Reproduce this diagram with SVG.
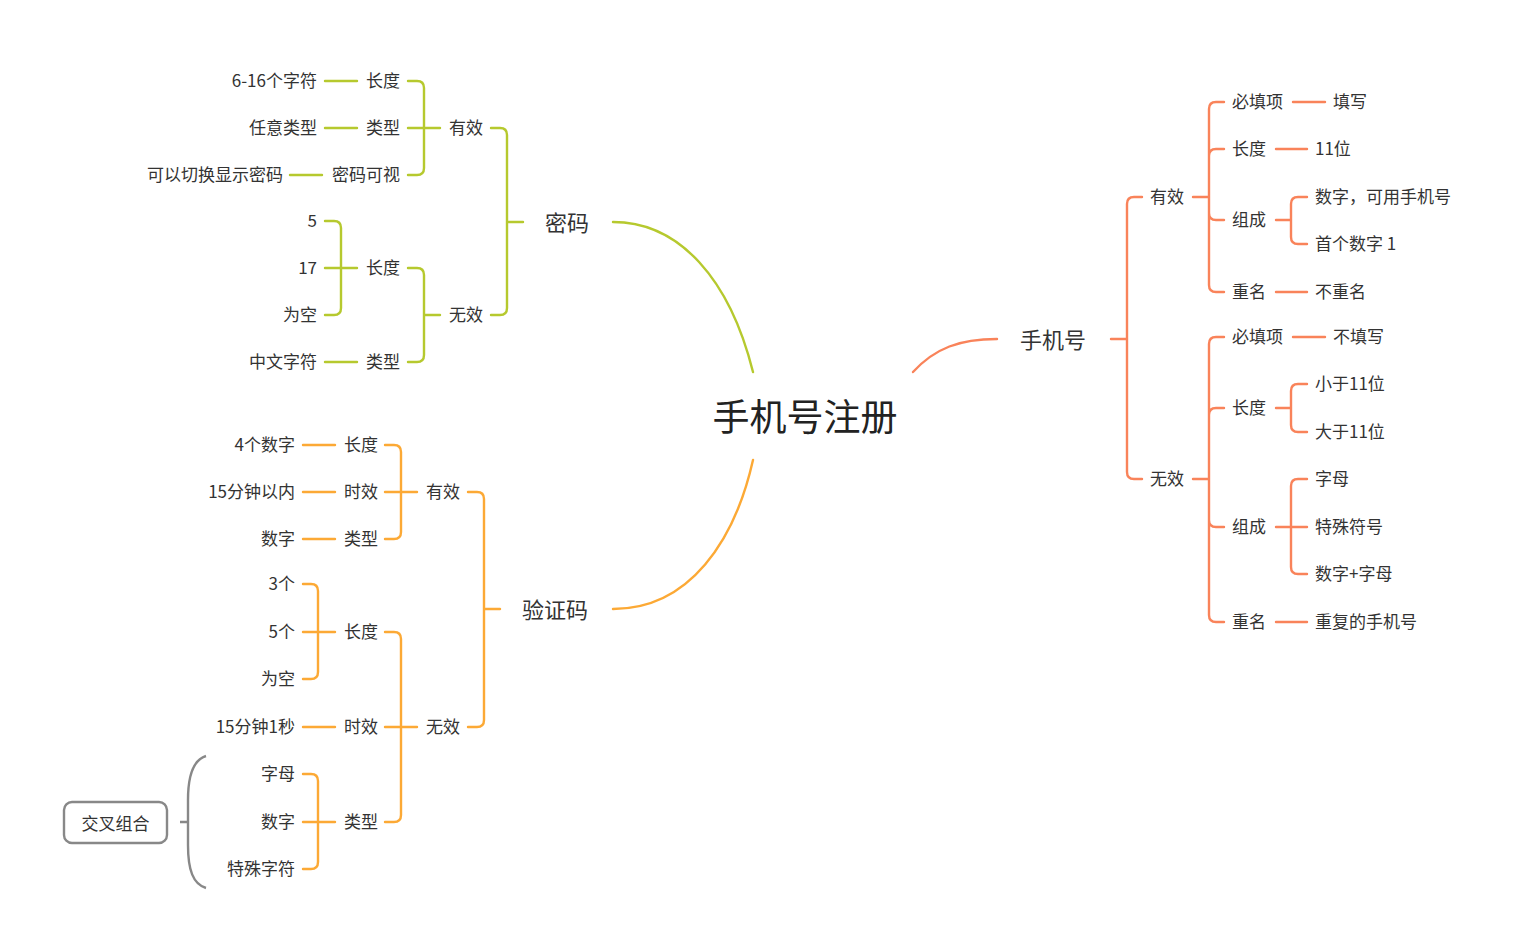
<svg xmlns="http://www.w3.org/2000/svg" width="1525" height="951" viewBox="0 0 1525 951">
<style>
text{font-family:"Noto Sans CJK SC","Liberation Sans",sans-serif;fill:#333;dominant-baseline:central;font-size:17px}
.e{text-anchor:end}
.m{font-size:22px}
.c{font-size:37px;text-anchor:middle;fill:#222}
.g{fill:none;stroke:#B6C92E;stroke-width:2.4;stroke-linecap:round}
.o{fill:none;stroke:#FCA935;stroke-width:2.4;stroke-linecap:round}
.s{fill:none;stroke:#F9835A;stroke-width:2.4;stroke-linecap:round}
.k{fill:none;stroke:#888;stroke-width:2.4}
</style>
<rect width="1525" height="951" fill="#fff"/>
<g id="connectors">
<path class="g" stroke-width="3.2" d="M613,222 C680,222 730,280 753,372"/>
<path class="o" stroke-width="3.2" d="M753,460 C735,540 690,609 613,609"/>
<path class="s" stroke-width="3.2" d="M913,372 C935,348 960,339 997,339"/>
<path class="g" d="M523,222 H507 M507,222 V135 Q507,128 500,128 H491 M507,222 V308 Q507,315 500,315 H491"/>
<path class="g" d="M440,128 H408 M424,128 V88 Q424,81 417,81 H408 M424,128 V168 Q424,175 417,175 H408"/>
<path class="g" d="M440,315 H424 M424,315 V275 Q424,268 417,268 H408 M424,315 V355 Q424,362 417,362 H408"/>
<path class="g" d="M357,268 H325 M341,268 V228 Q341,221 334,221 H325 M341,268 V308 Q341,315 334,315 H325"/>
<path class="g" d="M325,81 H357 M325,128 H357 M290,175 H322 M325,362 H357"/>
<path class="o" d="M500,609 H484 M484,609 V499 Q484,492 477,492 H468 M484,609 V720 Q484,727 477,727 H468"/>
<path class="o" d="M417,492 H385 M401,492 V452 Q401,445 394,445 H385 M401,492 V532 Q401,539 394,539 H385"/>
<path class="o" d="M417,727 H385 M401,727 V639 Q401,632 394,632 H385 M401,727 V815 Q401,822 394,822 H385"/>
<path class="o" d="M335,632 H303 M318,632 V591 Q318,584 311,584 H303 M318,632 V672 Q318,679 311,679 H303"/>
<path class="o" d="M335,822 H303 M318,822 V781 Q318,774 311,774 H303 M318,822 V862 Q318,869 311,869 H303"/>
<path class="o" d="M303,445 H335 M303,492 H335 M303,539 H335 M303,727 H335"/>
<path class="k" d="M206,756 C193,760 188,775 188,800 V845 C188,870 193,884 206,888 M180,822 H188"/>
<path class="s" d="M1111,339 H1127 M1127,339 V204 Q1127,197 1134,197 H1142 M1127,339 V472 Q1127,479 1134,479 H1142"/>
<path class="s" d="M1193,197 H1209 M1209,197 V109 Q1209,102 1216,102 H1224 M1209,197 V156 Q1209,149 1216,149 H1224 M1209,197 V213 Q1209,220 1216,220 H1224 M1209,197 V285 Q1209,292 1216,292 H1224"/>
<path class="s" d="M1193,479 H1209 M1209,479 V344 Q1209,337 1216,337 H1224 M1209,479 V415 Q1209,408 1216,408 H1224 M1209,479 V520 Q1209,527 1216,527 H1224 M1209,479 V615 Q1209,622 1216,622 H1224"/>
<path class="s" d="M1276,220 H1291 M1291,220 V204 Q1291,197 1298,197 H1307 M1291,220 V237 Q1291,244 1298,244 H1307"/>
<path class="s" d="M1276,408 H1291 M1291,408 V391 Q1291,384 1298,384 H1307 M1291,408 V425 Q1291,432 1298,432 H1307"/>
<path class="s" d="M1276,527 H1307 M1291,527 V486 Q1291,479 1298,479 H1307 M1291,527 V567 Q1291,574 1298,574 H1307"/>
<path class="s" d="M1293,102 H1325 M1276,149 H1307 M1276,292 H1307 M1293,337 H1325 M1276,622 H1307"/>
</g>
<g id="nodes" transform="translate(0,-1.5)">
<g id="root"><text class="c" x="805" y="416">手机号注册</text></g>
<g id="pwd"><text class="m" x="545" y="222">密码</text></g>
<g id="pwd-valid"><text class="e" x="483" y="128">有效</text></g>
<g id="pwd-valid-len"><text class="e" x="400" y="81">长度</text></g>
<g id="pwd-valid-len-v"><text class="e" x="317" y="81">6-16个字符</text></g>
<g id="pwd-valid-type"><text class="e" x="400" y="128">类型</text></g>
<g id="pwd-valid-type-v"><text class="e" x="317" y="128">任意类型</text></g>
<g id="pwd-valid-vis"><text class="e" x="400" y="175">密码可视</text></g>
<g id="pwd-valid-vis-v"><text class="e" x="283" y="175">可以切换显示密码</text></g>
<g id="pwd-invalid"><text class="e" x="483" y="315">无效</text></g>
<g id="pwd-invalid-len"><text class="e" x="400" y="268">长度</text></g>
<g id="pwd-invalid-len-5"><text class="e" x="317" y="221">5</text></g>
<g id="pwd-invalid-len-17"><text class="e" x="317" y="268">17</text></g>
<g id="pwd-invalid-len-empty"><text class="e" x="317" y="315">为空</text></g>
<g id="pwd-invalid-type"><text class="e" x="400" y="362">类型</text></g>
<g id="pwd-invalid-type-v"><text class="e" x="317" y="362">中文字符</text></g>
<g id="code"><text class="m" x="522" y="609">验证码</text></g>
<g id="code-valid"><text class="e" x="460" y="492">有效</text></g>
<g id="code-valid-len"><text class="e" x="378" y="445">长度</text></g>
<g id="code-valid-len-v"><text class="e" x="295" y="445">4个数字</text></g>
<g id="code-valid-time"><text class="e" x="378" y="492">时效</text></g>
<g id="code-valid-time-v"><text class="e" x="295" y="492">15分钟以内</text></g>
<g id="code-valid-type"><text class="e" x="378" y="539">类型</text></g>
<g id="code-valid-type-v"><text class="e" x="295" y="539">数字</text></g>
<g id="code-invalid"><text class="e" x="460" y="727">无效</text></g>
<g id="code-invalid-len"><text class="e" x="378" y="632">长度</text></g>
<g id="code-invalid-len-3"><text class="e" x="295" y="584">3个</text></g>
<g id="code-invalid-len-5"><text class="e" x="295" y="632">5个</text></g>
<g id="code-invalid-len-empty"><text class="e" x="295" y="679">为空</text></g>
<g id="code-invalid-time"><text class="e" x="378" y="727">时效</text></g>
<g id="code-invalid-time-v"><text class="e" x="295" y="727">15分钟1秒</text></g>
<g id="code-invalid-type"><text class="e" x="378" y="822">类型</text></g>
<g id="code-invalid-type-a"><text class="e" x="295" y="774">字母</text></g>
<g id="code-invalid-type-n"><text class="e" x="295" y="822">数字</text></g>
<g id="code-invalid-type-s"><text class="e" x="295" y="869">特殊字符</text></g>
<g id="summary"><rect x="64" y="803.5" width="103" height="41" rx="8" fill="#fff" stroke="#888" stroke-width="2.4"/><text x="115.5" y="823.5" text-anchor="middle">交叉组合</text></g>
<g id="phone"><text class="m" x="1020" y="339">手机号</text></g>
<g id="phone-valid"><text x="1150" y="197">有效</text></g>
<g id="phone-valid-req"><text x="1232" y="102">必填项</text></g>
<g id="phone-valid-req-v"><text x="1333" y="102">填写</text></g>
<g id="phone-valid-len"><text x="1232" y="149">长度</text></g>
<g id="phone-valid-len-v"><text x="1315" y="149">11位</text></g>
<g id="phone-valid-comp"><text x="1232" y="220">组成</text></g>
<g id="phone-valid-comp-a"><text x="1315" y="197">数字，可用手机号</text></g>
<g id="phone-valid-comp-b"><text x="1315" y="244">首个数字 1</text></g>
<g id="phone-valid-dup"><text x="1232" y="292">重名</text></g>
<g id="phone-valid-dup-v"><text x="1315" y="292">不重名</text></g>
<g id="phone-invalid"><text x="1150" y="479">无效</text></g>
<g id="phone-invalid-req"><text x="1232" y="337">必填项</text></g>
<g id="phone-invalid-req-v"><text x="1333" y="337">不填写</text></g>
<g id="phone-invalid-len"><text x="1232" y="408">长度</text></g>
<g id="phone-invalid-len-a"><text x="1315" y="384">小于11位</text></g>
<g id="phone-invalid-len-b"><text x="1315" y="432">大于11位</text></g>
<g id="phone-invalid-comp"><text x="1232" y="527">组成</text></g>
<g id="phone-invalid-comp-a"><text x="1315" y="479">字母</text></g>
<g id="phone-invalid-comp-b"><text x="1315" y="527">特殊符号</text></g>
<g id="phone-invalid-comp-c"><text x="1315" y="574">数字+字母</text></g>
<g id="phone-invalid-dup"><text x="1232" y="622">重名</text></g>
<g id="phone-invalid-dup-v"><text x="1315" y="622">重复的手机号</text></g>
</g>
</svg>
